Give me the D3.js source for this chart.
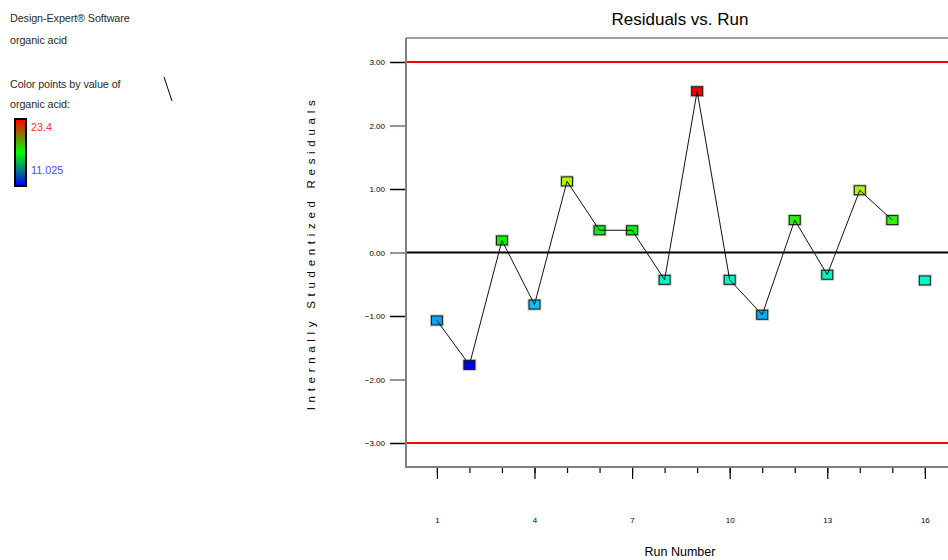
<!DOCTYPE html>
<html>
<head>
<meta charset="utf-8">
<script src="https://cdn.jsdelivr.net/npm/d3@7"></script>
<style>
  html, body { margin: 0; padding: 0; background: #fff; }
  svg { display: block; font-family: "Liberation Sans", Arial, sans-serif; }
</style>
</head>
<body>
<svg id="chart" width="948" height="560"></svg>
<script>
// Run order and internally studentized residuals
const runs = [1, 2, 3, 4, 5, 6, 7, 8, 9, 10, 11, 12, 13, 14, 15, 16];
const residuals = [-1.07, -1.77, 0.19, -0.82, 1.12, 0.35, 0.35, -0.43, 2.54, -0.43, -0.98, 0.51, -0.35, 0.98, 0.51, -0.44];
// Response value (organic acid) used to colour each point
const organicAcid = [13.1, 11.025, 17.2, 13.5, 19.5, 17.2, 17.2, 14.7, 23.4, 14.7, 13.2, 17.7, 14.8, 19.4, 17.8, 14.7];
// Runs that are joined by the connecting line
const connectedRuns = 15;
const yTicks = [3, 2, 1, 0, -1, -2, -3];
const xMajorTicks = [1, 4, 7, 10, 13, 16];
const limits = [3, -3];
const acidRange = [11.025, 23.4];

const svg = d3.select("#chart");

const x = d3.scaleLinear().domain([0.05, 18]).range([406, 406 + 17.95 * 32.53]);
const y = d3.scaleLinear().domain([-3, 3]).range([443, 62]);
const plotTop = 38, plotBottom = 467, plotLeft = 406, plotRight = 948;

// Hue runs from blue (low) to red (high)
const hue = d3.scaleLinear().domain(acidRange).range([240, 0]);
const pointColor = v => d3.hsl(hue(v), 1, 0.48).formatHex();

// Top frame
svg.append("line").attr("x1", plotLeft).attr("x2", plotRight)
  .attr("y1", plotTop).attr("y2", plotTop)
  .attr("stroke", "#404040").attr("stroke-width", 1);

// Y axis
const yAxis = d3.axisLeft(y).tickValues(yTicks).tickFormat(d3.format(".2f")).tickSize(16).tickPadding(5);
const gy = svg.append("g").attr("transform", `translate(${plotLeft},0)`).call(yAxis);
gy.select(".domain").remove();
gy.selectAll(".tick line").attr("stroke", (d, i) => i % 2 ? "#707070" : "#000").attr("stroke-width", 1.5);
gy.selectAll(".tick text").attr("font-size", 8).attr("fill", "#000");
svg.append("line").attr("x1", plotLeft).attr("x2", plotLeft)
  .attr("y1", plotTop).attr("y2", plotBottom)
  .attr("stroke", "#808080").attr("stroke-width", 2);

// X axis: minor ticks at every run, longer ticks with labels every third run
const xAxisMinor = d3.axisBottom(x).tickValues(d3.range(1, 18)).tickFormat("").tickSize(6);
const gxm = svg.append("g").attr("transform", `translate(0,${plotBottom})`).call(xAxisMinor);
gxm.select(".domain").remove();
gxm.selectAll(".tick line").attr("stroke", "#000").attr("stroke-width", 1.2);
const xAxis = d3.axisBottom(x).tickValues(xMajorTicks).tickFormat(d3.format("d")).tickSize(12).tickPadding(38);
const gx = svg.append("g").attr("transform", `translate(0,${plotBottom})`).call(xAxis);
gx.select(".domain").remove();
gx.selectAll(".tick line").attr("stroke", "#000").attr("stroke-width", 1.2);
gx.selectAll(".tick text").attr("font-size", 8).attr("fill", "#000");
svg.append("line").attr("x1", plotLeft - 1).attr("x2", plotRight)
  .attr("y1", plotBottom).attr("y2", plotBottom)
  .attr("stroke", "#808080").attr("stroke-width", 2);

// Limit lines at +/-3 and the zero reference
svg.selectAll("line.limit").data(limits).join("line").attr("class", "limit")
  .attr("x1", plotLeft + 1).attr("x2", plotRight)
  .attr("y1", d => y(d)).attr("y2", d => y(d))
  .attr("stroke", "#ff0000").attr("stroke-width", 2);
svg.append("line").attr("x1", plotLeft + 1).attr("x2", plotRight)
  .attr("y1", y(0)).attr("y2", y(0))
  .attr("stroke", "#000").attr("stroke-width", 2);

// Points
const pts = runs.map((r, i) => ({ run: r, res: residuals[i], acid: organicAcid[i] }));
const mw = 12, mh = 10;
svg.selectAll("rect.shadow").data(pts).join("rect").attr("class", "shadow")
  .attr("x", d => x(d.run) - mw / 2 - 1).attr("y", d => y(d.res) - mh / 2 - 1)
  .attr("width", mw + 2).attr("height", mh + 2).attr("fill", "#c8c8c8");
svg.selectAll("rect.pt").data(pts).join("rect").attr("class", "pt")
  .attr("x", d => x(d.run) - mw / 2 + 0.5).attr("y", d => y(d.res) - mh / 2 + 0.5)
  .attr("width", mw - 1).attr("height", mh - 1)
  .attr("fill", d => pointColor(d.acid))
  .attr("stroke", "#1a1a1a").attr("stroke-width", 1);

// Connecting line in run order
const line = d3.line().x(d => x(d.run)).y(d => y(d.res));
svg.append("path").datum(pts.slice(0, connectedRuns))
  .attr("d", line).attr("fill", "none")
  .attr("stroke", "#111").attr("stroke-width", 1);

// Titles
svg.append("text").attr("x", 680).attr("y", 25).attr("text-anchor", "middle")
  .attr("font-size", 17).attr("fill", "#000").text("Residuals vs. Run");
svg.append("text").attr("x", 680).attr("y", 556).attr("text-anchor", "middle")
  .attr("font-size", 12.5).attr("fill", "#000").text("Run Number");
svg.append("text")
  .attr("transform", "translate(315,253) rotate(-90)")
  .attr("text-anchor", "middle").attr("font-size", 11.5)
  .attr("letter-spacing", 4.7).attr("fill", "#000")
  .text("Internally Studentized Residuals");

// Side notes
const notes = [
  { t: "Design-Expert® Software", y: 22 },
  { t: "organic acid", y: 44 },
  { t: "Color points by value of", y: 88 },
  { t: "organic acid:", y: 108 }
];
svg.selectAll("text.note").data(notes).join("text").attr("class", "note")
  .attr("x", 10).attr("y", d => d.y).attr("font-size", 10.8)
  .attr("letter-spacing", -0.1).attr("fill", "#2a2a2a").text(d => d.t);
svg.append("line").attr("x1", 164).attr("y1", 77).attr("x2", 172).attr("y2", 101)
  .attr("stroke", "#000").attr("stroke-width", 1);

// Colour key
const defs = svg.append("defs");
const grad = defs.append("linearGradient").attr("id", "acidGrad")
  .attr("x1", 0).attr("y1", 1).attr("x2", 0).attr("y2", 0);
grad.append("stop").attr("offset", "0%").attr("stop-color", "#0000ff");
grad.append("stop").attr("offset", "50%").attr("stop-color", "#00ff00");
grad.append("stop").attr("offset", "100%").attr("stop-color", "#ff0000");
svg.append("rect").attr("x", 15).attr("y", 119).attr("width", 11).attr("height", 67)
  .attr("fill", "url(#acidGrad)").attr("stroke", "#000").attr("stroke-width", 2);
svg.append("text").attr("x", 31).attr("y", 131).attr("font-size", 10.8)
  .attr("fill", "#ff3030").text(acidRange[1]);
svg.append("text").attr("x", 31).attr("y", 174).attr("font-size", 10.8)
  .attr("fill", "#4a4aff").text(acidRange[0]);
</script>
</body>
</html>
